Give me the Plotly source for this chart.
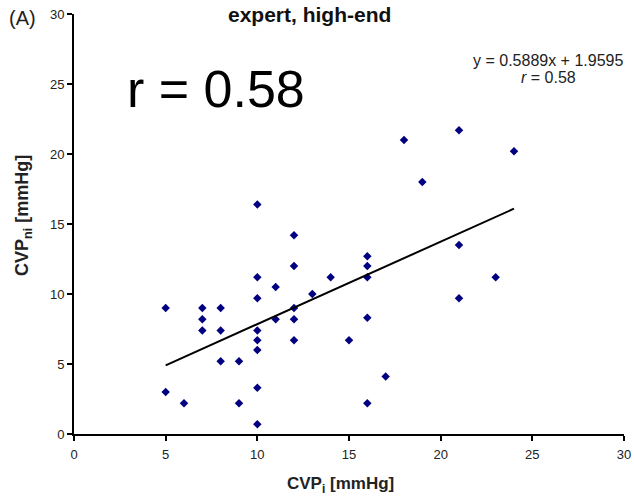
import plotly.graph_objects as go

# Data
cvp_i = [5, 5, 6, 7, 7, 7, 8, 8, 8, 9, 9,
         10, 10, 10, 10, 10, 10, 10, 10,
         11, 11, 12, 12, 12, 12, 12, 13, 14, 15,
         16, 16, 16, 16, 16, 17, 18, 19, 21, 21, 21, 23, 24]
cvp_ni = [9.0, 3.0, 2.2, 9.0, 8.2, 7.4, 9.0, 7.4, 5.2, 5.2, 2.2,
          16.4, 11.2, 9.7, 7.4, 6.7, 6.0, 3.3, 0.7,
          10.5, 8.2, 14.2, 12.0, 9.0, 8.2, 6.7, 10.0, 11.2, 6.7,
          12.7, 12.0, 11.2, 8.3, 2.2, 4.1, 21.0, 18.0, 21.7, 13.5, 9.7, 11.2, 20.2]

slope = 0.5889
intercept = 1.9595
r_value = 0.58
x_ticks = [0, 5, 10, 15, 20, 25, 30]
y_ticks = [0, 5, 10, 15, 20, 25, 30]

FONT = "Liberation Sans, Arial, sans-serif"

# plot area geometry in pixels (for annotation placement)
W, H = 634, 496
L, R, T, B = 74, 10, 14, 62
PW, PH = W - L - R, H - T - B


def px(xp):
    return (xp - L) / PW


def py(yp):
    return (H - B - yp) / PH


x_fit = [min(cvp_i), max(cvp_i)]
y_fit = [slope * v + intercept for v in x_fit]

fig = go.Figure()
fig.add_trace(go.Scatter(
    x=cvp_i, y=cvp_ni, mode="markers",
    marker=dict(symbol="diamond", size=6.5, color="#000080",
                line=dict(width=0)),
    showlegend=False, hoverinfo="x+y"))
fig.add_trace(go.Scatter(
    x=x_fit, y=y_fit, mode="lines",
    line=dict(color="black", width=2),
    showlegend=False, hoverinfo="skip"))

axis_common = dict(
    range=[0, 30], showgrid=False, zeroline=False, automargin=False,
    showline=True, linecolor="black", linewidth=2,
    ticks="outside", ticklen=5, tickwidth=1.5, tickcolor="black",
    tickfont=dict(family=FONT, size=13, color="#222"),
    fixedrange=True,
)
fig.update_xaxes(**axis_common, tickvals=x_ticks, ticklabelstandoff=2)
fig.update_yaxes(**axis_common, tickvals=y_ticks)

annotations = [
    dict(text="(A)", x=px(7), y=py(18), xanchor="left", yanchor="middle",
         font=dict(family=FONT, size=20, color="#222")),
    dict(text="<b>expert, high-end</b>", x=px(309), y=py(15),
         xanchor="center", yanchor="middle",
         font=dict(family=FONT, size=21, color="#111")),
    dict(text=f"y = {slope}x + {intercept}", x=px(548), y=py(60),
         xanchor="center", yanchor="middle",
         font=dict(family=FONT, size=16, color="#222")),
    dict(text=f"<i>r</i> = {r_value}", x=px(548), y=py(77),
         xanchor="center", yanchor="middle",
         font=dict(family=FONT, size=16, color="#222")),
    dict(text=f"r = {r_value}", x=px(216), y=py(89),
         xanchor="center", yanchor="middle",
         font=dict(family=FONT, size=52, color="black")),
    dict(text="<b>CVP<sub>i</sub> [mmHg]</b>", x=px(340), y=py(485),
         xanchor="center", yanchor="middle",
         font=dict(family=FONT, size=17, color="#222")),
    dict(text="<b>CVP<sub>ni</sub> [mmHg]</b>", x=px(24), y=py(216),
         xanchor="center", yanchor="middle", textangle=-90,
         font=dict(family=FONT, size=18, color="#222")),
]
for a in annotations:
    a.update(xref="paper", yref="paper", showarrow=False)

fig.update_layout(
    width=W, height=H,
    margin=dict(l=L, r=R, t=T, b=B, autoexpand=False),
    paper_bgcolor="white", plot_bgcolor="white",
    annotations=annotations,
    font=dict(family=FONT),
)

fig.write_html(
    "out.html",
    config={"displayModeBar": False},
    post_script="document.body.style.margin='0';"
                "document.body.style.overflow='hidden';",
)
